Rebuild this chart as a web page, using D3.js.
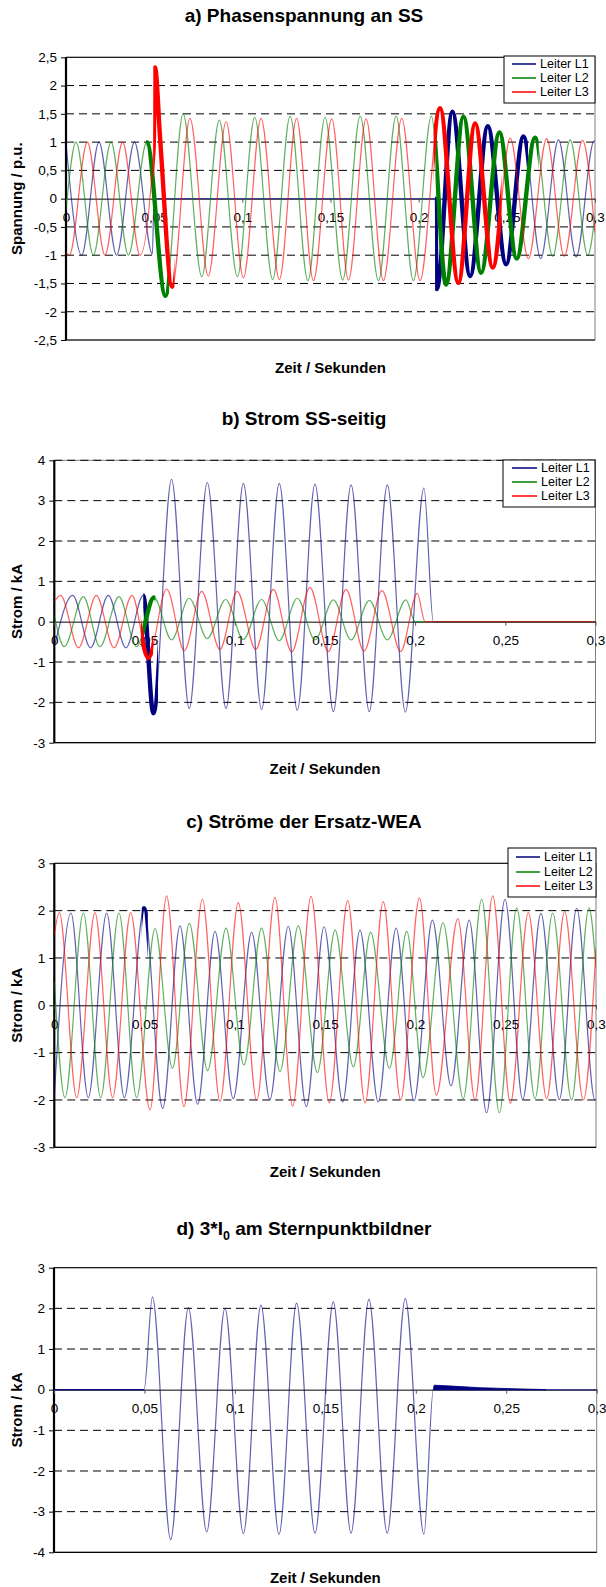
<!DOCTYPE html>
<html>
<head>
<meta charset="utf-8">
<script src="https://cdn.jsdelivr.net/npm/d3@7"></script>
<style>
  html, body { margin: 0; padding: 0; background: #fff; }
  svg { display: block; }
  text { font-family: "Liberation Sans", Arial, sans-serif; }
</style>
</head>
<body>
<svg id="chart" width="606" height="1587"></svg>
<script>
// ---------------- DATA ----------------
// x ticks (seconds) shared by all panels
const xTicks = [0, 0.05, 0.1, 0.15, 0.2, 0.25, 0.3];
const seriesNames = ["Leiter L1", "Leiter L2", "Leiter L3"];

// a) Phasenspannung an SS  — extremes [t, v] in p.u.
const yTicksA = [-2.5, -2, -1.5, -1, -0.5, 0, 0.5, 1, 1.5, 2, 2.5];
const aL1 = [[0,0.98],[0.0089,-1],[0.0187,1],[0.0287,-1],[0.0388,1],[0.0490,-0.98],[0.0499,0],[0.2093,0],[0.2103,-1.6],[0.2191,1.54],[0.2292,-1.37],[0.2392,1.28],[0.2496,-1.16],[0.2594,1.10],[0.2692,-1.06],[0.2793,1.04],[0.2893,-1.03],[0.2995,1.02],[0.3,1.02]];
const aL2 = [[0,-0.2],[0.0057,1],[0.0155,-1],[0.0255,1],[0.0354,-1],[0.0458,1],[0.0564,-1.72],[0.0664,1.5],[0.0770,-1.38],[0.0869,1.39],[0.0972,-1.38],[0.1070,1.44],[0.1172,-1.43],[0.1271,1.46],[0.1372,-1.45],[0.1469,1.44],[0.1569,-1.44],[0.1668,1.46],[0.1772,-1.45],[0.1872,1.46],[0.1970,-1.45],[0.2072,1.46],[0.2155,-1.52],[0.2254,1.45],[0.2354,-1.31],[0.2458,1.17],[0.2556,-1.06],[0.2660,1.08],[0.2760,-1.02],[0.2859,1.04],[0.2959,-1.0],[0.3,-0.3]];
const aL3 = [[0,-0.95],[0.0019,-1],[0.0121,1],[0.0221,-1],[0.0321,1],[0.0420,-1],[0.0497,0.9],[0.0505,2.32],[0.0535,1.0],[0.0602,-1.56],[0.0703,1.42],[0.0807,-1.37],[0.0908,1.36],[0.1006,-1.40],[0.1106,1.42],[0.1210,-1.43],[0.1308,1.42],[0.1403,-1.45],[0.1507,1.41],[0.1602,-1.44],[0.1702,1.41],[0.1800,-1.45],[0.1904,1.42],[0.2008,-1.45],[0.2121,1.6],[0.2225,-1.49],[0.2320,1.33],[0.2420,-1.22],[0.2519,1.07],[0.2622,-1.06],[0.2726,1.06],[0.2826,-1.02],[0.2929,1.03],[0.3,-0.6]];
// time ranges with heavy high-frequency content (drawn as a heavy trace)
const aNoiseL1 = [[0.2093, 0.262]];
const aNoiseL2 = [[0.0455, 0.0585], [0.2095, 0.268]];
const aNoiseL3 = [[0.0495, 0.0615], [0.2085, 0.247]];

// b) Strom SS-seitig  — extremes [t, kA]
const yTicksB = [-3, -2, -1, 0, 1, 2, 3, 4];
const bL1 = [[0,-0.62],[0.0102,0.65],[0.0201,-0.65],[0.0299,0.65],[0.0397,-0.65],[0.0493,0.65],[0.0549,-2.27],[0.0650,3.53],[0.0748,-2.15],[0.0848,3.45],[0.0952,-2.15],[0.1048,3.43],[0.1149,-2.18],[0.1247,3.43],[0.1347,-2.2],[0.1445,3.41],[0.1547,-2.23],[0.1645,3.39],[0.1746,-2.23],[0.1846,3.39],[0.1946,-2.24],[0.2049,3.31],[0.2101,0],[0.3,0]];
const bL2 = [[0,0.15],[0.0055,-0.62],[0.0161,0.62],[0.0253,-0.62],[0.0358,0.62],[0.0456,-0.62],[0.0553,0.6],[0.0650,-0.45],[0.0748,0.58],[0.0848,-0.42],[0.0950,0.55],[0.1048,-0.44],[0.1149,0.55],[0.1247,-0.47],[0.1347,0.58],[0.1445,-0.45],[0.1547,0.54],[0.1645,-0.45],[0.1746,0.53],[0.1846,-0.45],[0.1949,0.54],[0.2000,0],[0.3,0]];
const bL3 = [[0,0.5],[0.0035,0.65],[0.0134,-0.65],[0.0233,0.65],[0.0331,-0.65],[0.0431,0.65],[0.0521,-0.9],[0.0623,0.81],[0.0721,-0.72],[0.0817,0.75],[0.0918,-0.69],[0.1014,0.75],[0.1116,-0.69],[0.1214,0.8],[0.1316,-0.75],[0.1417,0.85],[0.1519,-0.74],[0.1617,0.8],[0.1717,-0.73],[0.1816,0.77],[0.1920,-0.74],[0.2012,0.7],[0.2055,0],[0.3,0]];
const bNoiseL1 = [[0.0493, 0.0575]];
const bNoiseL2 = [[0.0488, 0.0560]];
const bNoiseL3 = [[0.0480, 0.0548]];

// c) Ströme der Ersatz-WEA  — extremes [t, kA]
const yTicksC = [-3, -2, -1, 0, 1, 2, 3];
const cL1 = [[0,-1.9],[0.0092,1.95],[0.0188,-1.95],[0.0290,1.95],[0.0388,-1.95],[0.0497,2.05],[0.0600,-2.18],[0.0696,1.68],[0.0794,-2.09],[0.0890,1.56],[0.0991,-1.97],[0.1093,1.54],[0.1194,-1.99],[0.1296,1.67],[0.1396,-2.14],[0.1494,1.66],[0.1597,-2.04],[0.1693,1.59],[0.1794,-2.04],[0.1893,1.63],[0.1992,-2.02],[0.2094,1.8],[0.2197,-1.70],[0.2298,1.8],[0.2394,-2.27],[0.2496,2.24],[0.2594,-1.99],[0.2695,1.94],[0.2797,-1.99],[0.2893,2.05],[0.2994,-2.0],[0.3,-2.0]];
const cL2 = [[0,0.5],[0.0059,-1.95],[0.0161,1.95],[0.0257,-1.95],[0.0358,1.95],[0.0456,-1.95],[0.0558,1.62],[0.0654,-1.33],[0.0748,1.73],[0.0849,-1.38],[0.0951,1.63],[0.1050,-1.26],[0.1148,1.63],[0.1250,-1.40],[0.1351,1.68],[0.1457,-1.42],[0.1555,1.59],[0.1656,-1.3],[0.1752,1.54],[0.1856,-1.33],[0.1952,1.56],[0.2042,-1.53],[0.2153,1.74],[0.2265,-1.97],[0.2367,2.24],[0.2465,-2.27],[0.2561,2.06],[0.2662,-1.97],[0.2760,1.95],[0.2865,-2.0],[0.2961,2.06],[0.3,0.8]];
const cL3 = [[0,1.5],[0.0028,1.96],[0.0124,-1.95],[0.0225,1.96],[0.0323,-1.95],[0.0423,1.96],[0.0530,-2.21],[0.0622,2.31],[0.0718,-2.14],[0.0820,2.24],[0.0918,-2.03],[0.1019,2.17],[0.1121,-2.01],[0.1222,2.28],[0.1320,-2.13],[0.1422,2.30],[0.1523,-2.06],[0.1625,2.21],[0.1721,-2.06],[0.1822,2.19],[0.1918,-2.0],[0.2022,2.27],[0.2116,-1.9],[0.2235,1.83],[0.2330,-2.0],[0.2428,2.31],[0.2526,-2.07],[0.2625,1.96],[0.2727,-1.97],[0.2826,1.98],[0.2930,-2.0],[0.3,1.2]];
const cNoiseL1 = [[0.0484, 0.0518]];

// d) 3*I0 am Sternpunktbildner — extremes [t, kA]
const yTicksD = [-4, -3, -2, -1, 0, 1, 2, 3];
const dI0 = [[0,0],[0.0498,0],[0.0544,2.28],[0.0645,-3.69],[0.0743,2.02],[0.0844,-3.5],[0.0945,2.0],[0.1047,-3.54],[0.1144,2.08],[0.1244,-3.56],[0.1341,2.13],[0.1443,-3.53],[0.1544,2.16],[0.1642,-3.53],[0.1741,2.22],[0.1842,-3.53],[0.1942,2.24],[0.2045,-3.56],[0.2097,0],[0.3,0]];
// envelope of the decaying HF ripple after 0.21 s
const dRipple = [[0.2097,0],[0.2101,0.11],[0.215,0.10],[0.225,0.075],[0.235,0.05],[0.245,0.035],[0.255,0.022],[0.265,0.01],[0.270,0.004],[0.272,0]];

// ---------------- DRAWING ----------------
const colors = ["#000080", "#008000", "#ff0000"];
const svg = d3.select("#chart");
const fmt = v => String(v).replace(".", ",");

const panels = [
  { id: "a", title: [["a) Phasenspannung an SS"]], ylabel: "Spannung / p.u.",
    x0: 66, x1: 595, yTop: 57.3, yBot: 340, ticks: yTicksA, titleY: 22, xlabelY: 373, topDashed: false,
    series: [aL1, aL2, aL3], noise: [aNoiseL1, aNoiseL2, aNoiseL3],
    legend: { x: 504, y: 56, w: 91, h: 47, lx: 512, lw: 24, ty: [64, 78, 92] } },
  { id: "b", title: [["b) Strom SS-seitig"]], ylabel: "Strom / kA",
    x0: 54.3, x1: 595.5, yTop: 460.3, yBot: 742.7, ticks: yTicksB, titleY: 425, xlabelY: 774, topDashed: true,
    series: [bL1, bL2, bL3], noise: [bNoiseL1, bNoiseL2, bNoiseL3],
    legend: { x: 503, y: 460, w: 92, h: 47, lx: 512, lw: 25, ty: [468, 482, 496] } },
  { id: "c", title: [["c) Ströme der Ersatz-WEA"]], ylabel: "Strom / kA",
    x0: 54.3, x1: 596, yTop: 863.3, yBot: 1147.3, ticks: yTicksC, titleY: 828, xlabelY: 1177, topDashed: false,
    series: [cL1, cL2, cL3], noise: [cNoiseL1, [], []],
    legend: { x: 508, y: 848, w: 88, h: 49, lx: 516, lw: 24, ty: [857, 872, 886] } },
  { id: "d", title: [["d) 3*I"], ["0", "sub"], [" am Sternpunktbildner"]], ylabel: "Strom / kA",
    x0: 54, x1: 596.7, yTop: 1267.7, yBot: 1552.3, ticks: yTicksD, titleY: 1235, xlabelY: 1583, topDashed: false,
    series: [dI0], noise: [[]], ripple: dRipple, legend: null }
];

panels.forEach(p => {
  const g = svg.append("g");
  const x = d3.scaleLinear().domain([0, 0.3]).range([p.x0, p.x1]);
  const dom = d3.extent(p.ticks);
  const y = d3.scaleLinear().domain(dom).range([p.yBot, p.yTop]);

  // title
  const tt = g.append("text").attr("x", 304).attr("y", p.titleY)
    .attr("text-anchor", "middle").attr("font-size", 19).attr("font-weight", "bold");
  p.title.forEach(part => {
    const ts = tt.append("tspan").text(part[0]);
    if (part[1] === "sub") ts.attr("font-size", 12.5).attr("dy", 5);
    else if (tt.selectAll("tspan").size() > 1) ts.attr("dy", -5);
  });

  // plot border
  g.append("rect").attr("x", p.x0).attr("y", p.yTop).attr("width", p.x1 - p.x0)
    .attr("height", p.yBot - p.yTop).attr("fill", "none").attr("stroke", "#808080").attr("stroke-width", 1);

  // gridlines
  p.ticks.forEach(t => {
    if (t === 0 || t === dom[0]) return;
    const isTop = t === dom[1];
    g.append("line").attr("x1", p.x0).attr("x2", p.x1).attr("y1", y(t)).attr("y2", y(t))
      .attr("stroke", "#000").attr("stroke-width", 1)
      .attr("stroke-dasharray", (!isTop || p.topDashed) ? "8,5" : null);
  });
  g.append("line").attr("x1", p.x0).attr("x2", p.x1).attr("y1", p.yBot).attr("y2", p.yBot)
    .attr("stroke", "#000").attr("stroke-width", 1.2);

  // y axis
  const ya = g.append("g").attr("transform", `translate(${p.x0},0)`)
    .call(d3.axisLeft(y).tickValues(p.ticks).tickSize(5).tickPadding(4).tickFormat(fmt));
  ya.select(".domain").remove();
  ya.selectAll("text").attr("font-size", 13.5).attr("font-family", '"Liberation Sans", Arial, sans-serif').attr("fill", "#000");
  ya.selectAll("line").attr("stroke", "#000");
  g.append("line").attr("x1", p.x0).attr("x2", p.x0).attr("y1", p.yTop).attr("y2", p.yBot)
    .attr("stroke", "#000").attr("stroke-width", 2.2);

  // x axis at zero
  const xa = g.append("g").attr("transform", `translate(0,${y(0)})`)
    .call(d3.axisBottom(x).tickValues(xTicks).tickSize(4).tickSizeOuter(0).tickPadding(10).tickFormat(fmt));
  xa.selectAll("text").attr("font-size", 13.5).attr("font-family", '"Liberation Sans", Arial, sans-serif').attr("fill", "#000");
  xa.selectAll("line").attr("stroke", "#555");
  xa.select(".domain").attr("stroke", "#000").attr("stroke-width", 1);

  // axis titles
  g.append("text").attr("x", (p.x0 + p.x1) / 2).attr("y", p.xlabelY).attr("text-anchor", "middle")
    .attr("font-size", 15).attr("font-weight", "bold").text("Zeit / Sekunden");
  g.append("text").attr("transform", `translate(17,${(p.yTop + p.yBot) / 2}) rotate(-90)`)
    .attr("dy", "0.36em").attr("text-anchor", "middle")
    .attr("font-size", 15).attr("font-weight", "bold").text(p.ylabel);

  // clip for plot area
  const clipId = "clip-" + p.id;
  g.append("clipPath").attr("id", clipId).append("rect")
    .attr("x", p.x0).attr("y", p.yTop).attr("width", p.x1 - p.x0).attr("height", p.yBot - p.yTop);

  const line = d3.line().x(d => x(d[0])).y(d => y(d[1])).curve(d3.curveMonotoneX);
  const plot = g.append("g").attr("clip-path", `url(#${clipId})`);

  p.series.forEach((s, i) => {
    plot.append("path").attr("d", line(s)).attr("fill", "none")
      .attr("stroke", colors[i]).attr("stroke-opacity", 0.62).attr("stroke-width", 1.2)
      .attr("stroke-linejoin", "round");
    p.noise[i].forEach((r, k) => {
      const nid = `n-${p.id}-${i}-${k}`;
      g.append("clipPath").attr("id", nid).append("rect")
        .attr("x", x(r[0])).attr("y", p.yTop).attr("width", x(r[1]) - x(r[0])).attr("height", p.yBot - p.yTop);
      plot.append("g").attr("clip-path", `url(#${nid})`).append("path").attr("d", line(s))
        .attr("fill", "none").attr("stroke", colors[i]).attr("stroke-width", 4.4).attr("stroke-linejoin", "round");
    });
  });

  if (p.ripple) {
    const area = d3.area().x(d => x(d[0])).y0(y(0)).y1(d => y(d[1]));
    plot.append("path").attr("d", area(p.ripple)).attr("fill", colors[0]).attr("stroke", colors[0]).attr("stroke-width", 0.8);
    // dark zero trace before the event
    plot.append("line").attr("x1", x(0)).attr("x2", x(dI0[1][0])).attr("y1", y(0)).attr("y2", y(0))
      .attr("stroke", colors[0]).attr("stroke-width", 1);
  }

  // legend
  if (p.legend) {
    const L = p.legend;
    const lg = g.append("g");
    lg.append("rect").attr("x", L.x).attr("y", L.y).attr("width", L.w).attr("height", L.h)
      .attr("fill", "#fff").attr("stroke", "#000").attr("stroke-width", 1);
    seriesNames.forEach((n, i) => {
      lg.append("line").attr("x1", L.lx).attr("x2", L.lx + L.lw).attr("y1", L.ty[i]).attr("y2", L.ty[i])
        .attr("stroke", colors[i]).attr("stroke-width", 1.5);
      lg.append("text").attr("x", L.lx + L.lw + 4).attr("y", L.ty[i]).attr("dy", "0.35em")
        .attr("font-size", 12.5).text(n);
    });
  }
});
</script>
</body>
</html>
